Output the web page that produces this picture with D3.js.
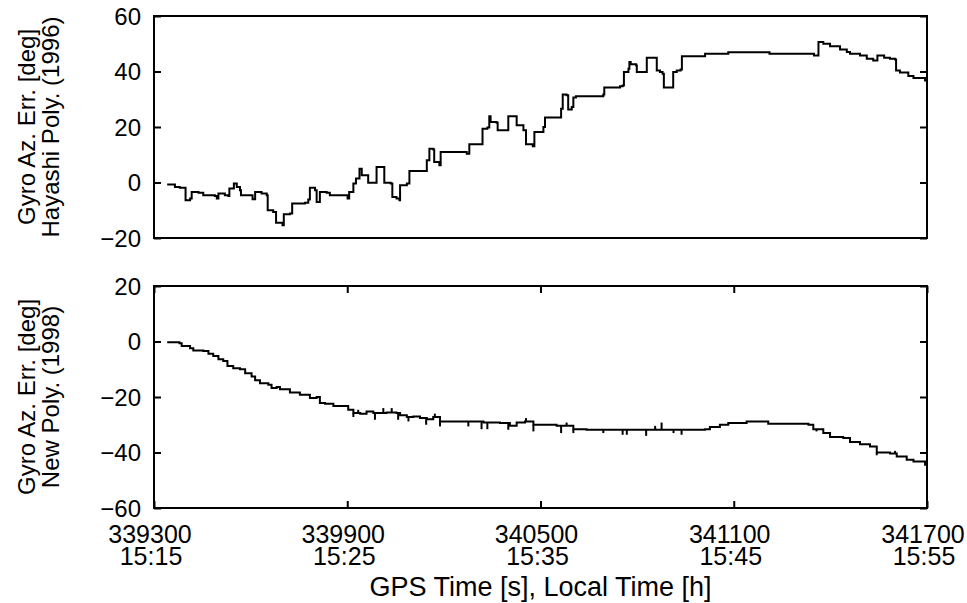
<!DOCTYPE html>
<html><head><meta charset="utf-8">
<script src="https://cdn.jsdelivr.net/npm/d3@7"></script>
<style>
html,body{margin:0;padding:0;background:#fff;}
svg text{font-family:"Liberation Sans",Arial,Helvetica,sans-serif;fill:#000;}
</style></head>
<body>
<svg id="c" width="967" height="603"></svg>
<script>
// ---- data ----
const xTicks = [339300, 339900, 340500, 341100, 341700];
const xTickLocal = ["15:15", "15:25", "15:35", "15:45", "15:55"];
const topYTicks = [-20, 0, 20, 40, 60];
const botYTicks = [-60, -40, -20, 0, 20];
const xLabel = "GPS Time [s], Local Time [h]";
const topYLabel = ["Gyro Az. Err. [deg]", "Hayashi Poly. (1996)"];
const botYLabel = ["Gyro Az. Err. [deg]", "New Poly. (1998)"];

// Hayashi polynomial (1996) azimuth error [time, deg]
const hayashi = [[339341,-0.7],[339365,-1.6],[339380,-1.9],[339398,-6.4],[339412,-5.8],[339417,-3.4],[339438,-3.7],[339453,-4.6],[339489,-4.9],[339495,-5.8],[339500,-4.0],[339520,-4.6],[339531,-4.9],[339534,-2.2],[339548,-0.4],[339557,-1.6],[339567,-2.8],[339570,-4.6],[339598,-4.6],[339606,-6.0],[339614,-3.4],[339634,-4.0],[339650,-4.6],[339653,-10.0],[339670,-10.6],[339679,-14.5],[339699,-15.4],[339703,-11.4],[339722,-11.2],[339729,-7.6],[339769,-7.3],[339779,-6.1],[339784,-1.9],[339800,-2.8],[339805,-7.0],[339815,-3.4],[339836,-3.7],[339846,-4.6],[339901,-5.8],[339906,-3.4],[339919,-0.4],[339927,1.4],[339938,5.0],[339945,2.6],[339965,-0.1],[339991,5.6],[340015,-0.1],[340035,-0.4],[340040,-5.2],[340053,-5.8],[340062,-6.4],[340064,-1.0],[340085,-0.4],[340093,4.1],[340147,8.0],[340155,12.2],[340167,11.9],[340170,7.4],[340186,6.2],[340190,11.0],[340271,10.4],[340279,13.8],[340320,19.4],[340335,19.8],[340341,23.9],[340345,21.8],[340364,21.5],[340367,18.8],[340400,23.9],[340426,20.6],[340447,18.8],[340455,13.8],[340476,13.1],[340481,18.2],[340509,20.0],[340514,23.4],[340564,26.6],[340569,31.7],[340581,31.4],[340586,26.3],[340597,27.2],[340602,30.6],[340610,31.1],[340695,31.7],[340698,34.2],[340747,34.7],[340755,35.0],[340759,39.8],[340773,41.0],[340776,43.4],[340780,42.6],[340797,42.2],[340799,39.8],[340830,45.0],[340861,40.4],[340871,39.8],[340879,39.2],[340883,34.2],[340907,34.2],[340912,39.8],[340923,40.4],[340935,40.7],[340939,45.5],[341011,46.4],[341083,46.9],[341211,46.4],[341349,45.8],[341363,50.6],[341378,50.0],[341399,49.1],[341430,47.9],[341451,47.0],[341461,46.4],[341492,45.8],[341513,44.6],[341533,44.0],[341546,45.8],[341567,45.0],[341585,44.6],[341601,44.3],[341604,40.4],[341616,39.6],[341642,38.4],[341658,37.7],[341694,36.8],[341700,36.8]];

// New polynomial (1998) azimuth error [time, deg]
const newPoly = [[339341,-0.3],[339379,-0.6],[339386,-1.6],[339412,-2.4],[339422,-3.2],[339453,-3.4],[339469,-4.4],[339484,-5.2],[339500,-6.4],[339515,-7.0],[339528,-8.8],[339546,-9.6],[339567,-10.0],[339583,-11.4],[339603,-12.6],[339614,-14.0],[339629,-15.0],[339655,-15.6],[339665,-16.8],[339681,-16.4],[339691,-17.2],[339722,-18.4],[339753,-19.2],[339784,-20.4],[339805,-20.0],[339815,-22.2],[339831,-22.4],[339857,-23.2],[339888,-23.2],[339903,-24.6],[339919,-25.8],[339940,-26.0],[339960,-25.2],[339981,-25.8],[340022,-25.6],[340053,-25.8],[340064,-26.6],[340085,-27.2],[340105,-27.0],[340126,-27.6],[340147,-28.0],[340167,-27.2],[340188,-28.8],[340271,-28.8],[340323,-29.2],[340374,-29.4],[340405,-30.4],[340426,-29.2],[340452,-28.8],[340478,-30.0],[340550,-30.4],[340581,-30.4],[340602,-31.6],[340643,-31.8],[340933,-31.8],[341011,-31.6],[341026,-30.8],[341057,-30.0],[341083,-29.4],[341140,-28.8],[341207,-29.6],[341332,-30.0],[341347,-31.6],[341378,-33.0],[341399,-34.4],[341440,-34.8],[341461,-36.2],[341492,-37.0],[341523,-37.8],[341544,-40.0],[341585,-40.4],[341606,-41.4],[341637,-42.6],[341658,-43.2],[341694,-44.4],[341700,-44.6]];

// short spikes in the new polynomial trace [time, tip deg]
const newPolySpikes = [[339919,-27.2],[339934,-24.6],[339986,-28.2],[340012,-24.0],[340038,-24.0],[340058,-28.2],[340090,-28.8],[340145,-30.0],[340172,-26.0],[340188,-30.6],[340276,-30.6],[340317,-31.6],[340335,-31.6],[340400,-31.8],[340455,-27.6],[340478,-32.4],[340564,-33.0],[340581,-29.2],[340602,-33.0],[340695,-33.0],[340755,-33.6],[340768,-33.6],[340828,-34.0],[340856,-30.4],[340876,-29.2],[340913,-33.0],[340938,-33.6],[341357,-32.4],[341544,-41.0],[341601,-39.4]];

// ---- drawing ----
const svg = d3.select("#c");
const L = 154, R = 927;
const x = d3.scaleLinear().domain([339300, 341700]).range([L, R]);
const panels = [
  {y: d3.scaleLinear().domain([-20, 60]).range([238, 16]), top: 16, bot: 238, ticks: topYTicks, data: hayashi, spikes: [], label: topYLabel, xt: false},
  {y: d3.scaleLinear().domain([-60, 20]).range([508, 286]), top: 286, bot: 508, ticks: botYTicks, data: newPoly, spikes: newPolySpikes, label: botYLabel, xt: true}
];

panels.forEach(p => {
  const g = svg.append("g");
  const la = g.append("g").attr("transform", `translate(${L},0)`)
    .call(d3.axisLeft(p.y).tickValues(p.ticks).tickSize(-7).tickPadding(13).tickFormat(d3.format("d")));
  la.select(".domain").remove();
  la.selectAll("line").attr("stroke-width", 2);
  la.selectAll("text").attr("font-size", 24).attr("dy", "0.35em");
  const ra = g.append("g").attr("transform", `translate(${R},0)`)
    .call(d3.axisRight(p.y).tickValues(p.ticks).tickSize(-7).tickFormat(""));
  ra.select(".domain").remove();
  ra.selectAll("line").attr("stroke-width", 2);
  if (p.xt) {
    const ba = g.append("g").attr("transform", `translate(0,${p.bot})`)
      .call(d3.axisBottom(x).tickValues(xTicks).tickSize(-7).tickFormat(""));
    ba.select(".domain").remove();
    ba.selectAll("line").attr("stroke-width", 2);
    const ta = g.append("g").attr("transform", `translate(0,${p.top})`)
      .call(d3.axisTop(x).tickValues(xTicks).tickSize(-7).tickFormat(""));
    ta.select(".domain").remove();
    ta.selectAll("line").attr("stroke-width", 2);
  }
  g.append("rect").attr("x", L).attr("y", p.top).attr("width", R - L).attr("height", p.bot - p.top)
    .attr("fill", "none").attr("stroke", "#000").attr("stroke-width", 2);
  const line = d3.line().x(d => x(d[0])).y(d => p.y(d[1])).curve(d3.curveStepAfter);
  g.append("path").datum(p.data).attr("d", line).attr("fill", "none")
    .attr("stroke", "#000").attr("stroke-width", 2).attr("stroke-linejoin", "miter");
  const bis = d3.bisector(d => d[0]).right;
  g.selectAll(".spk").data(p.spikes).join("line")
    .attr("x1", d => x(d[0])).attr("x2", d => x(d[0]))
    .attr("y1", d => { const i = Math.max(0, bis(p.data, d[0]) - 1); return p.y(p.data[i][1]); })
    .attr("y2", d => p.y(d[1]))
    .attr("stroke", "#000").attr("stroke-width", 2);
  const cy = (p.top + p.bot) / 2;
  const yl = g.append("text").attr("transform", `translate(0,${cy}) rotate(-90)`)
    .attr("text-anchor", "middle").attr("font-size", 24);
  yl.append("tspan").attr("x", 0).attr("y", 35).text(p.label[0]);
  yl.append("tspan").attr("x", 0).attr("y", 59).text(p.label[1]);
});

// x tick labels (two lines)
const xl = svg.append("g");
xTicks.forEach((t, i) => {
  const tx = xl.append("text").attr("text-anchor", "middle").attr("font-size", 25);
  tx.append("tspan").attr("x", x(t) - 4).attr("y", 543).text(String(t));
  tx.append("tspan").attr("x", x(t) - 3).attr("y", 565).text(xTickLocal[i]);
});
svg.append("text").attr("x", (L + R) / 2).attr("y", 596).attr("text-anchor", "middle")
  .attr("font-size", 27).text(xLabel);
</script>
</body></html>
